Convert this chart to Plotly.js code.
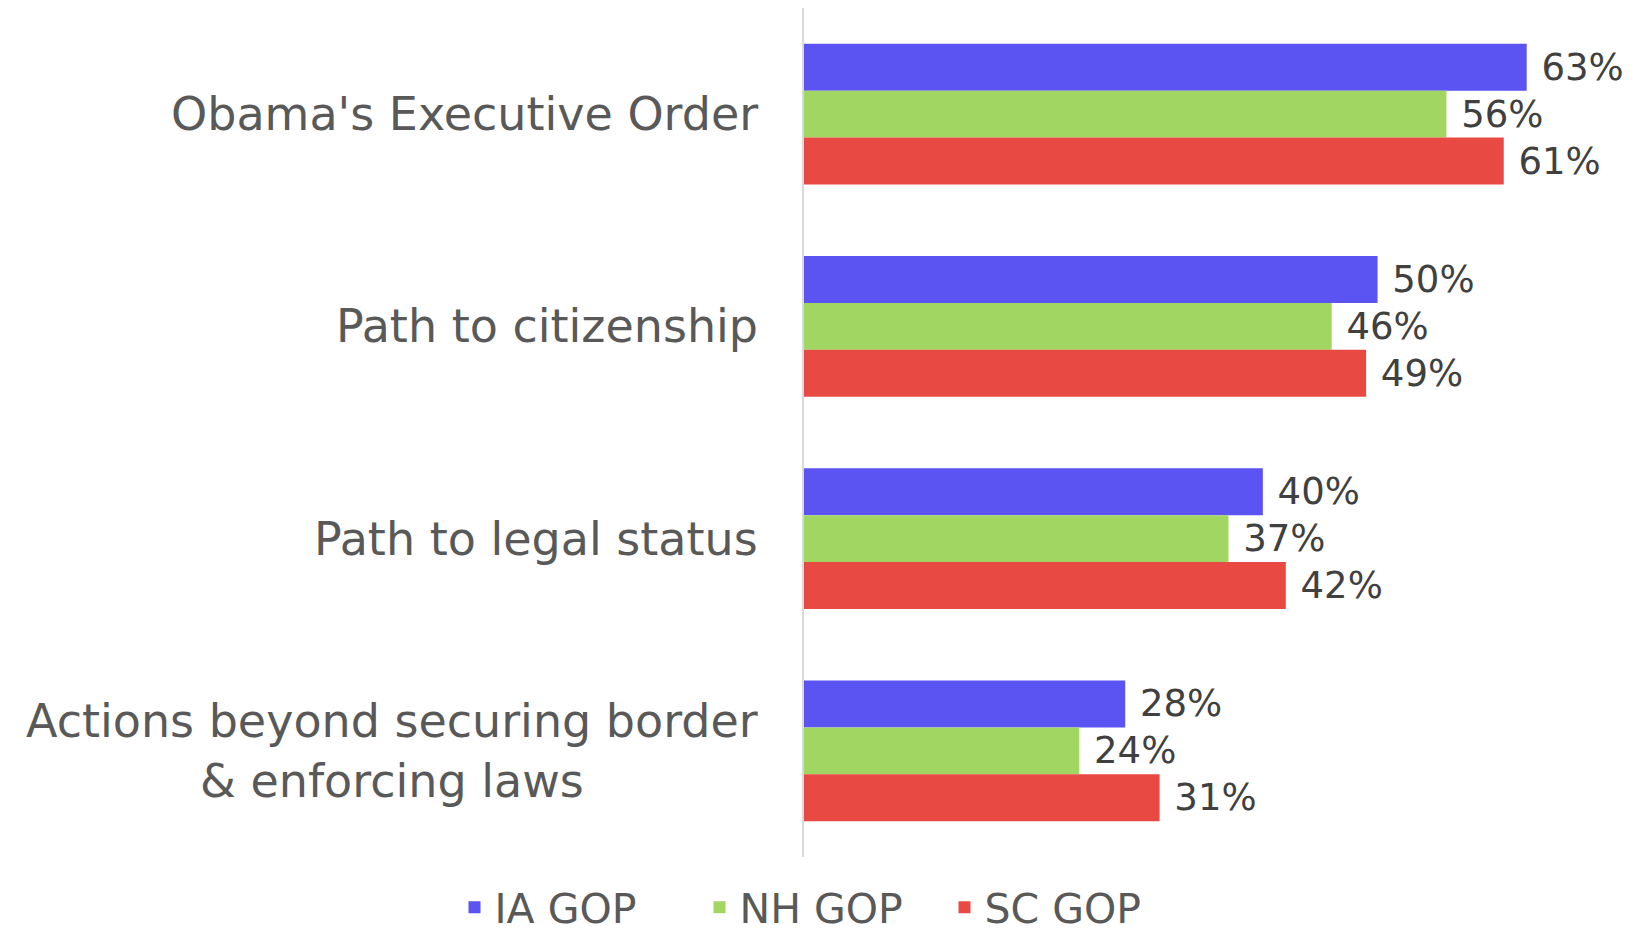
<!DOCTYPE html>
<html>
<head>
<meta charset="utf-8">
<script src="https://cdn.plot.ly/plotly-3.0.1.min.js"></script>
<style>html,body{margin:0;padding:0;background:#fff;}#chart{width:1644px;height:945px;}</style>
</head>
<body>
<div id="chart"></div>
<script>
const categories = ["Obama's Executive Order", "Path to citizenship", "Path to legal status", "Actions beyond securing border<br>& enforcing laws"];
const seriesNames = ["IA GOP", "NH GOP", "SC GOP"];
const iaValues = [63, 50, 40, 28];
const nhValues = [56, 46, 37, 24];
const scValues = [61, 49, 42, 31];
const colors = ["#5B53F2", "#A2D662", "#E84A43"];

const FONT = "'DejaVu Sans', sans-serif";
const allValues = [iaValues, nhValues, scValues];
const traces = allValues.map((vals, i) => ({
  type: 'bar',
  orientation: 'h',
  name: seriesNames[i],
  y: categories,
  x: vals,
  marker: {color: colors[i]},
  texttemplate: '\u00a0%{x}%',
  textposition: 'outside',
  cliponaxis: false,
  textfont: {family: FONT, size: 37, color: '#404040'},
  hoverinfo: 'skip'
}));

const annotations = categories.map(c => ({
  xref: 'paper', yref: 'y', x: 0, y: c,
  xanchor: 'right', yanchor: 'middle', xshift: -44,
  text: c, align: 'center', showarrow: false,
  font: {family: FONT, size: 46, color: '#595959'}
}));

const layout = {
  width: 1644, height: 945,
  margin: {l: 804, r: 37, t: 8, b: 88},
  paper_bgcolor: '#ffffff', plot_bgcolor: '#ffffff',
  barmode: 'group', bargap: 0.336, bargroupgap: 0,
  showlegend: true,
  legend: {
    orientation: 'h', xref: 'container', yref: 'container',
    x: 0.5, xanchor: 'center', y: 0.004, yanchor: 'bottom',
    font: {family: FONT, size: 41, color: '#595959'},
    traceorder: 'normal', entrywidth: 200, entrywidthmode: 'pixels'
  },
  xaxis: {range: [0, 70], visible: false, showgrid: false, zeroline: false, fixedrange: true},
  yaxis: {
    autorange: 'reversed', showticklabels: false, ticks: '',
    showline: true, linecolor: '#d9d9d9', linewidth: 2, showgrid: false, zeroline: false
  },
  annotations: annotations
};

Plotly.newPlot('chart', traces, layout, {displayModeBar: false, staticPlot: true});
</script>
</body>
</html>
